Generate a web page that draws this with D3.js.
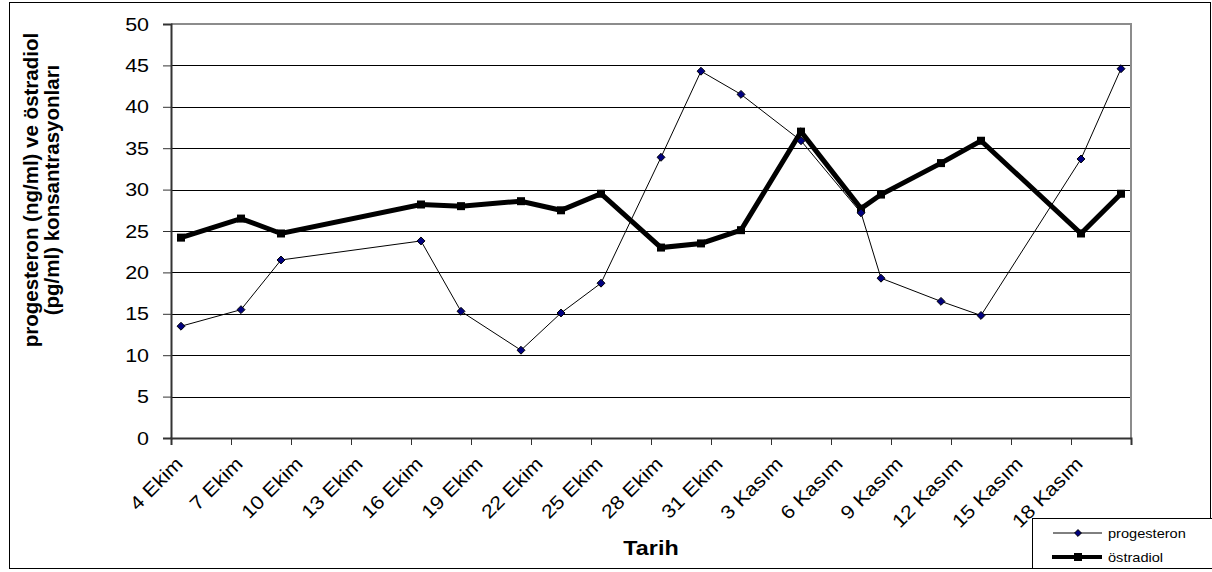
<!DOCTYPE html>
<html><head><meta charset="utf-8">
<script src="https://cdn.jsdelivr.net/npm/d3@7/dist/d3.min.js"></script>
<style>
html,body{margin:0;padding:0;background:#fff;}
svg{display:block;font-family:"Liberation Sans",Arial,sans-serif;}
</style></head>
<body>
<svg id="chart" width="1212" height="572"></svg>
<script>
// ---- data ----
const dates = ["2005-10-04","2005-10-07","2005-10-09","2005-10-16","2005-10-18","2005-10-21","2005-10-23","2005-10-25","2005-10-28","2005-10-30","2005-11-01","2005-11-04","2005-11-07","2005-11-08","2005-11-11","2005-11-13","2005-11-18","2005-11-20"];
const progesteron = [13.5,15.5,21.5,23.8,15.3,10.6,15.1,18.7,33.9,44.3,41.5,35.9,27.2,19.3,16.5,14.8,33.7,44.6];
const ostradiol   = [24.2,26.5,24.7,28.2,28.0,28.6,27.5,29.5,23.0,23.5,25.1,37.0,27.7,29.4,33.2,35.9,24.7,29.5];
const tickDates = ["2005-10-04","2005-10-07","2005-10-10","2005-10-13","2005-10-16","2005-10-19","2005-10-22","2005-10-25","2005-10-28","2005-10-31","2005-11-03","2005-11-06","2005-11-09","2005-11-12","2005-11-15","2005-11-18","2005-11-21"];
const tickLabels = ["4 Ekim","7 Ekim","10 Ekim","13 Ekim","16 Ekim","19 Ekim","22 Ekim","25 Ekim","28 Ekim","31 Ekim","3 Kasım","6 Kasım","9 Kasım","12 Kasım","15 Kasım","18 Kasım",""];
const yTicks = [0,5,10,15,20,25,30,35,40,45,50];
const seriesNames = ["progesteron","östradiol"];
const yTitle = ["progesteron (ng/ml) ve östradiol","(pg/ml) konsantrasyonları"];
const xTitle = "Tarih";

// ---- layout ----
const svg = d3.select("#chart");
const L = 171, R = 1131, T = 24, B = 438;
const parse = d3.utcParse("%Y-%m-%d");
const dayStart = parse("2005-10-04"), dayEnd = parse("2005-11-21");
const x = d3.scaleUtc().domain([dayStart, dayEnd]).range([L, R]);
const y = d3.scaleLinear().domain([0,50]).range([B, T]);
const mid = s => d3.utcHour.offset(parse(s), 12);

// horizontal text widening to mimic the reference rendering
function widen(sel, k){
  sel.each(function(){
    if(!this.textContent) return;
    const w = this.getComputedTextLength();
    d3.select(this).attr("textLength", w*k).attr("lengthAdjust","spacingAndGlyphs");
  });
}

// outer frame
svg.append("rect").attr("x",9.5).attr("y",2.5).attr("width",1201).attr("height",566)
  .attr("fill","#fff").attr("stroke","#000").attr("stroke-width",1);

// gridlines
svg.append("g").selectAll("line").data(yTicks.filter(v=>v>0 && v<50)).join("line")
  .attr("x1",L).attr("x2",R).attr("y1",d=>Math.round(y(d))+0.5).attr("y2",d=>Math.round(y(d))+0.5)
  .attr("stroke","#000").attr("stroke-width",1);

// plot frame top/right gray
svg.append("path").attr("d",`M${L},${T} H${R} V${B}`).attr("fill","none")
  .attr("stroke","#8c8c8c").attr("stroke-width",2);

// y axis
const yAxis = d3.axisLeft(y).tickValues(yTicks).tickSize(8).tickPadding(14).tickFormat(d3.format("d"));
const gy = svg.append("g").attr("transform",`translate(${L},0)`).call(yAxis);
gy.select(".domain").attr("stroke","#333").attr("stroke-width",2);
gy.selectAll(".tick line").attr("stroke","#333").attr("stroke-width",1);
gy.selectAll(".tick text").attr("font-size","19px").attr("fill","#000")
  .attr("font-family","Liberation Sans, Arial, sans-serif").call(widen,1.13);

// x axis
const xAxis = d3.axisBottom(x).tickValues(tickDates.map(parse)).tickSize(7).tickFormat("");
const gx = svg.append("g").attr("transform",`translate(0,${B})`).call(xAxis);
gx.select(".domain").attr("stroke","#333").attr("stroke-width",2);
gx.selectAll(".tick line").attr("stroke","#333").attr("stroke-width",1);

// x labels
svg.append("g").selectAll("text").data(tickDates.map((d,i)=>({d:mid(d),t:tickLabels[i]}))).join("text")
  .attr("transform",d=>`translate(${x(d.d)+3},${B+27}) rotate(-45)`)
  .attr("text-anchor","end").attr("font-size","19px").attr("fill","#000")
  .text(d=>d.t).call(widen,1.13);

// axis titles
svg.append("text").attr("x",(L+R)/2).attr("y",555).attr("text-anchor","middle")
  .attr("font-size","21px").attr("font-weight","bold").text(xTitle).call(widen,1.11);
yTitle.forEach((t,i)=>{
  svg.append("text").attr("transform",`translate(${38+i*21},${190}) rotate(-90)`)
    .attr("text-anchor","middle").attr("font-size","20.5px").attr("font-weight","bold").text(t);
});

// series
const pts = vals => dates.map((d,i)=>({d:mid(d), v:vals[i]}));
const line = d3.line().x(p=>x(p.d)).y(p=>y(p.v));

svg.append("path").datum(pts(ostradiol)).attr("d",line).attr("fill","none")
  .attr("stroke","#000").attr("stroke-width",5).attr("stroke-linejoin","miter");
svg.append("g").selectAll("rect").data(pts(ostradiol)).join("rect")
  .attr("x",p=>x(p.d)-4).attr("y",p=>y(p.v)-4).attr("width",8).attr("height",8).attr("fill","#000");

svg.append("path").datum(pts(progesteron)).attr("d",line).attr("fill","none")
  .attr("stroke","#000").attr("stroke-width",1);
const diamond = d3.symbol().type(d3.symbolDiamond2).size(40);
svg.append("g").selectAll("path").data(pts(progesteron)).join("path")
  .attr("transform",p=>`translate(${x(p.d)},${y(p.v)})`).attr("d",diamond)
  .attr("fill","#000080").attr("stroke","#000").attr("stroke-width",1);

// legend
const lg = svg.append("g");
lg.append("rect").attr("x",1032.5).attr("y",518.5).attr("width",185).attr("height",50)
  .attr("fill","#fff").attr("stroke","#000").attr("stroke-width",1);
lg.append("line").attr("x1",1053).attr("x2",1102).attr("y1",533).attr("y2",533).attr("stroke","#000").attr("stroke-width",1);
lg.append("path").attr("transform","translate(1078,533)").attr("d",d3.symbol().type(d3.symbolDiamond2).size(30))
  .attr("fill","#000080").attr("stroke","#000").attr("stroke-width",1);
lg.append("line").attr("x1",1052).attr("x2",1102).attr("y1",557).attr("y2",557).attr("stroke","#000").attr("stroke-width",4);
lg.append("rect").attr("x",1074).attr("y",553).attr("width",8).attr("height",8).attr("fill","#000");
lg.append("text").attr("x",1108).attr("y",538).attr("font-size","13.5px").text(seriesNames[0]).call(widen,1.08);
lg.append("text").attr("x",1108).attr("y",562).attr("font-size","13.5px").text(seriesNames[1]).call(widen,1.08);
</script>
</body></html>
